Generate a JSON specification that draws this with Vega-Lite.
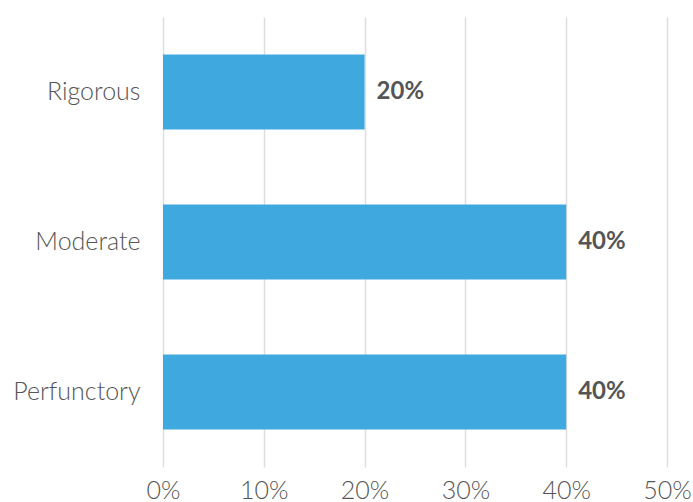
{
  "$schema": "https://vega.github.io/schema/vega-lite/v6.json",
  "width": 504,
  "height": 450,
  "autosize": "none",
  "padding": {"left": 163, "top": 17, "right": 26, "bottom": 35},
  "background": "white",
  "data": {"values": [
    {"category": "Rigorous", "value": 0.2},
    {"category": "Moderate", "value": 0.4},
    {"category": "Perfunctory", "value": 0.4}
  ]},
  "config": {"view": {"stroke": null}, "font": "Lato"},
  "encoding": {
    "y": {"field": "category", "type": "nominal", "sort": ["Rigorous", "Moderate", "Perfunctory"],
      "scale": {"paddingInner": 0.5, "paddingOuter": 0.25},
      "axis": {"title": null, "domain": false, "ticks": false, "labelFontSize": 25, "labelFont": "Lato", "labelFontWeight": 300, "labelColor": "#555555", "labelPadding": 23, "grid": false}},
    "x": {"field": "value", "type": "quantitative", "scale": {"domain": [0, 0.5], "nice": false},
      "axis": {"title": null, "format": ".0%", "values": [0, 0.1, 0.2, 0.3, 0.4, 0.5], "labelOverlap": false, "domain": false, "ticks": false, "labelFontSize": 25, "labelFont": "Lato", "labelFontWeight": 300, "labelColor": "#555555", "labelPadding": 11, "gridColor": "#dddddd", "gridWidth": 1.5, "labelFlush": false}}
  },
  "layer": [
    {"mark": {"type": "bar", "color": "#3fa9df"}},
    {"mark": {"type": "text", "align": "left", "dx": 12, "fontSize": 24, "fontWeight": "bold", "color": "#555555", "font": "Lato"},
      "encoding": {"text": {"field": "value", "type": "quantitative", "format": ".0%"}}}
  ]
}
